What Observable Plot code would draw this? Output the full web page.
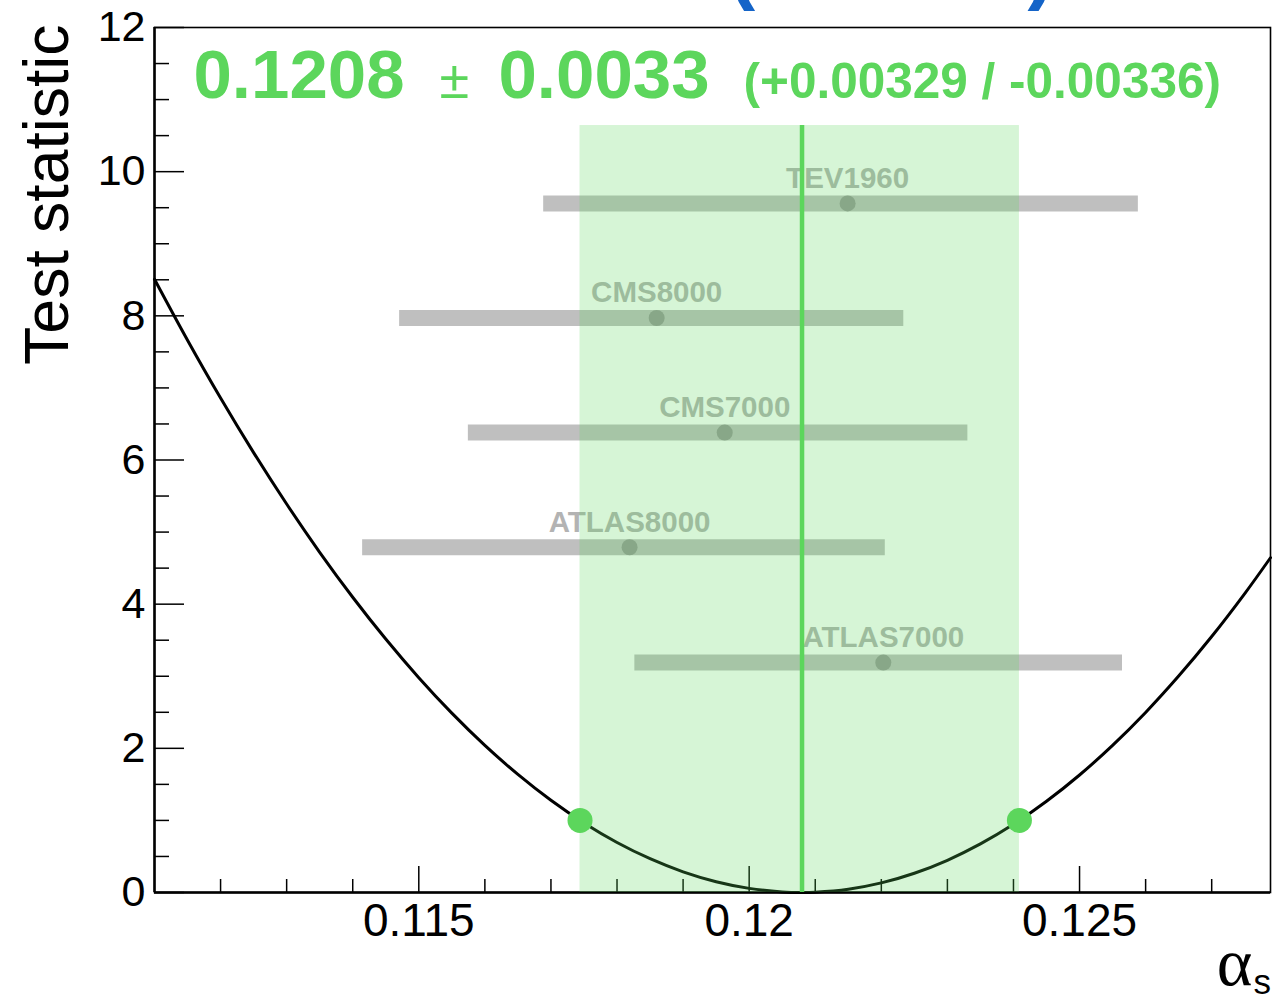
<!DOCTYPE html>
<html>
<head>
<meta charset="utf-8">
<script src="https://cdn.jsdelivr.net/npm/d3@7"></script>
<script src="https://cdn.jsdelivr.net/npm/@observablehq/plot@0.6"></script>
<style>
  html, body { margin: 0; padding: 0; background: #ffffff; overflow: hidden; }
</style>
</head>
<body>
<script>
// ---- data ----
const experiments = ["TEV1960", "CMS8000", "CMS7000", "ATLAS8000", "ATLAS7000"];
const expCentral  = [0.12149, 0.11860, 0.11963, 0.11819, 0.12203];
const expLow      = [0.11689, 0.11471, 0.11575, 0.11415, 0.11827];
const expHigh     = [0.12589, 0.12234, 0.12331, 0.12206, 0.12565];
const expRow      = [9.56, 7.97, 6.38, 4.79, 3.19];

// test statistic curve (alpha_s, value)
const curveAlpha = [0.1110, 0.1115, 0.1120, 0.1125, 0.1130, 0.1135, 0.1140, 0.1145, 0.1150, 0.1155,
                    0.1160, 0.1165, 0.1170, 0.1175, 0.1180, 0.1185, 0.1190, 0.1195, 0.1200, 0.1205,
                    0.1208, 0.1210, 0.1215, 0.1220, 0.1225, 0.1230, 0.1235, 0.1240, 0.1245, 0.1250,
                    0.1255, 0.1260, 0.1265, 0.1270, 0.1275, 0.12789];
const curveValue = [8.507, 7.661, 6.859, 6.102, 5.389, 4.720, 4.096, 3.516, 2.980, 2.488,
                    2.041, 1.638, 1.279, 0.965, 0.694, 0.469, 0.287, 0.150, 0.057, 0.008,
                    0.000, 0.004, 0.045, 0.133, 0.267, 0.447, 0.674, 0.946, 1.265, 1.630,
                    2.041, 2.498, 3.002, 3.551, 4.147, 4.644];

const fitCentral = 0.1208;
const fitErrUp = 0.00329;
const fitErrDown = 0.00336;
const bandTop = 10.64;
const crossingLevel = 1;

const headlineParts = ["0.1208", "±", "0.0033", "(+0.00329 / -0.00336)"];
const titleParts = ["(", ")"];

const xMajor = [0.115, 0.12, 0.125];
const xTickLabels = ["0.115", "0.12", "0.125"];
const xMinor = [0.112, 0.113, 0.114, 0.116, 0.117, 0.118, 0.119, 0.121, 0.122, 0.123, 0.124, 0.126, 0.127];
const yMajor = [0, 2, 4, 6, 8, 10, 12];
const yTickLabels = ["0", "2", "4", "6", "8", "10", "12"];
const yMinor = [0.5, 1, 1.5, 2.5, 3, 3.5, 4.5, 5, 5.5, 6.5, 7, 7.5, 8.5, 9, 9.5, 10.5, 11, 11.5];
const xDomain = [0.111, 0.12789];
const yDomain = [0, 12];
const yTitle = "Test statistic";
const xTitleMain = "α";
const xTitleSub = "s";

// ---- build tables ----
const measurements = experiments.map((name, i) => ({
  name, central: expCentral[i], lo: expLow[i], hi: expHigh[i], row: expRow[i]
}));
const curve = curveAlpha.map((a, i) => ({a, v: curveValue[i]}));
const bandLo = fitCentral - fitErrDown;
const bandHi = fitCentral + fitErrUp;
const crossings = [{a: bandLo, v: crossingLevel}, {a: bandHi, v: crossingLevel}];

// ---- layout / style ----
const W = 1272, H = 998;
const mL = 154, mR = 2, mT = 27, mB = 106;
const frameH = H - mT - mB;
const frameW = W - mL - mR;
const green = "#5cd65c";
const font = "Liberation Sans, Arial, Helvetica, sans-serif";

const plot = Plot.plot({
  width: W,
  height: H,
  marginLeft: mL,
  marginRight: mR,
  marginTop: mT,
  marginBottom: mB,
  style: {fontFamily: font, background: "#ffffff", color: "#000000"},
  x: {domain: xDomain},
  y: {domain: yDomain},
  marks: [
    // ticks (inward)
    Plot.ruleX(xMajor, {x: d => d, y1: yDomain[1], y2: yDomain[0], insetTop: frameH - 26, stroke: "#000", strokeWidth: 1.5}),
    Plot.ruleX(xMinor, {x: d => d, y1: yDomain[1], y2: yDomain[0], insetTop: frameH - 13, stroke: "#000", strokeWidth: 1.5}),
    Plot.ruleY(yMajor, {y: d => d, x1: xDomain[0], x2: xDomain[1], insetRight: frameW - 30, stroke: "#000", strokeWidth: 1.5}),
    Plot.ruleY(yMinor, {y: d => d, x1: xDomain[0], x2: xDomain[1], insetRight: frameW - 15, stroke: "#000", strokeWidth: 1.5}),
    Plot.frame({stroke: "#000", strokeWidth: 1.6}),
    Plot.ruleY([yDomain[0]], {stroke: "#000", strokeWidth: 2.5}),
    Plot.ruleX([xDomain[0]], {stroke: "#000", strokeWidth: 2.5}),
    // curve
    Plot.line(curve, {x: "a", y: "v", stroke: "#000", strokeWidth: 3, curve: "catmull-rom"}),
    // measurements
    Plot.ruleY(measurements, {y: "row", x1: "lo", x2: "hi", stroke: "#bfbfbf", strokeWidth: 16}),
    Plot.dot(measurements, {x: "central", y: "row", r: 8, fill: "#979797", stroke: null}),
    Plot.text(measurements, {x: "central", y: "row", text: "name", dy: -25, fill: "#b3b3b3",
      fontWeight: "bold", fontSize: 29.5, fontFamily: font}),
    // band
    Plot.rect([{lo: bandLo, hi: bandHi}], {x1: "lo", x2: "hi", y1: () => 0, y2: () => bandTop,
      fill: green, fillOpacity: 0.25}),
    Plot.ruleX([fitCentral], {x: d => d, y1: 0, y2: bandTop, stroke: green, strokeWidth: 4.5}),
    Plot.dot(crossings, {x: "a", y: "v", r: 12.5, fill: green, stroke: null}),
    // headline
    Plot.text([headlineParts[0]], {frameAnchor: "top-left", textAnchor: "start", lineAnchor: "bottom",
      dx: 39, dy: 70, text: d => d, fill: green, fontWeight: "bold", fontSize: 69, fontFamily: font}),
    Plot.text([headlineParts[1]], {frameAnchor: "top-left", textAnchor: "start", lineAnchor: "bottom",
      dx: 285, dy: 70, text: d => d, fill: green, fontWeight: "normal", fontSize: 54, fontFamily: font}),
    Plot.text([headlineParts[2]], {frameAnchor: "top-left", textAnchor: "start", lineAnchor: "bottom",
      dx: 344, dy: 70, text: d => d, fill: green, fontWeight: "bold", fontSize: 69, fontFamily: font}),
    Plot.text([headlineParts[3]], {frameAnchor: "top-left", textAnchor: "start", lineAnchor: "bottom",
      dx: 589, dy: 70, text: d => d, fill: green, fontWeight: "bold", fontSize: 49.5, fontFamily: font}),
    // partially visible title above
    Plot.text([titleParts[0]], {frameAnchor: "top-left", textAnchor: "start", lineAnchor: "bottom",
      dx: 574, dy: -34, text: d => d, fill: "#1464c8", fontWeight: "bold", fontSize: 80, fontFamily: font}),
    Plot.text([titleParts[1]], {frameAnchor: "top-left", textAnchor: "start", lineAnchor: "bottom",
      dx: 873, dy: -34, text: d => d, fill: "#1464c8", fontWeight: "bold", fontSize: 80, fontFamily: font}),
    // axes labels
    Plot.axisX({ticks: xMajor, tickSize: 0, tickPadding: 11, fontSize: 46,
      tickFormat: (d, i) => xTickLabels[xMajor.indexOf(d)], label: null}),
    Plot.axisY({ticks: yMajor, tickSize: 0, tickPadding: 9, fontSize: 43,
      tickFormat: (d, i) => yTickLabels[yMajor.indexOf(d)], label: null}),
    Plot.text([yTitle], {frameAnchor: "top-left", textAnchor: "end", lineAnchor: "bottom", rotate: -90,
      dx: -87, dy: -3, text: d => d, fill: "#000", fontSize: 62.5, fontFamily: font}),
    Plot.text([xTitleMain], {frameAnchor: "bottom-right", textAnchor: "end", lineAnchor: "bottom",
      dx: -18, dy: 92, text: d => d, fill: "#000", fontSize: 68, fontFamily: "Liberation Serif, serif"}),
    Plot.text([xTitleSub], {frameAnchor: "bottom-right", textAnchor: "start", lineAnchor: "bottom",
      dx: -17, dy: 101, text: d => d, fill: "#000", fontSize: 35, fontFamily: font})
  ]
});
document.body.appendChild(plot);
</script>
</body>
</html>
